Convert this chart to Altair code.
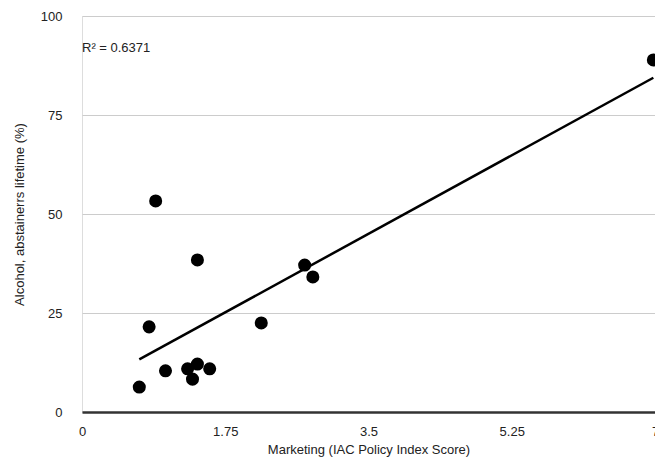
import altair as alt
import pandas as pd

marketing = [0.70, 0.82, 0.90, 1.02, 1.29, 1.35, 1.41, 1.41, 1.56, 2.19, 2.72, 2.82, 6.98]
abstainers = [6.3, 21.5, 53.3, 10.4, 10.9, 8.3, 12.1, 38.4, 10.9, 22.5, 37.1, 34.1, 88.9]
x_ticks = [0, 1.75, 3.5, 5.25, 7]
y_ticks = [0, 25, 50, 75, 100]
r2_label = "R² = 0.6371"

df = pd.DataFrame({"x": marketing, "y": abstainers})
FONT = "Liberation Sans"

xenc = alt.X(
    "x:Q",
    title="Marketing (IAC Policy Index Score)",
    scale=alt.Scale(domain=[0, 7], nice=False, zero=True),
    axis=alt.Axis(
        values=x_ticks, format=".2~f", grid=False, ticks=False, domain=True,
        domainColor="#333333", domainWidth=2.5, labelPadding=13,
        labelFontSize=13, labelColor="#222222", titleFontSize=13,
        titleColor="#222222", titleFontWeight="normal", titlePadding=5,
        labelFont=FONT, titleFont=FONT, labelFlush=False,
    ),
)
yenc = alt.Y(
    "y:Q",
    title="Alcohol, abstainerrs lifetime (%)",
    scale=alt.Scale(domain=[0, 100], nice=False),
    axis=alt.Axis(
        values=y_ticks, grid=True, gridColor="#cccccc", gridWidth=1,
        ticks=False, domain=False, labelPadding=20,
        labelFontSize=13, labelColor="#222222", titleFontSize=13,
        titleColor="#222222", titleFontWeight="normal", titlePadding=14,
        labelFont=FONT, titleFont=FONT,
    ),
)

points = alt.Chart(df).mark_circle(size=170, color="black", opacity=1).encode(x=xenc, y=yenc)

line = (
    alt.Chart(df)
    .transform_regression("x", "y", method="linear")
    .mark_line(color="black", strokeWidth=2.5)
    .encode(x=xenc, y=yenc)
)

label = (
    alt.Chart(pd.DataFrame({"t": [r2_label]}))
    .mark_text(align="left", baseline="middle", fontSize=13, font=FONT, color="#222222")
    .encode(x=alt.value(0), y=alt.value(32), text="t:N")
)

chart = (
    alt.layer(line, points, label)
    .properties(
        width=573,
        height=396,
        autosize=alt.AutoSizeParams(type="none"),
        padding={"left": 74, "top": 8, "right": 0, "bottom": 47},
    )
    .configure_view(stroke=None)
    .configure(background="white")
)

chart.save("out.html", embed_options={"renderer": "svg", "actions": False})
